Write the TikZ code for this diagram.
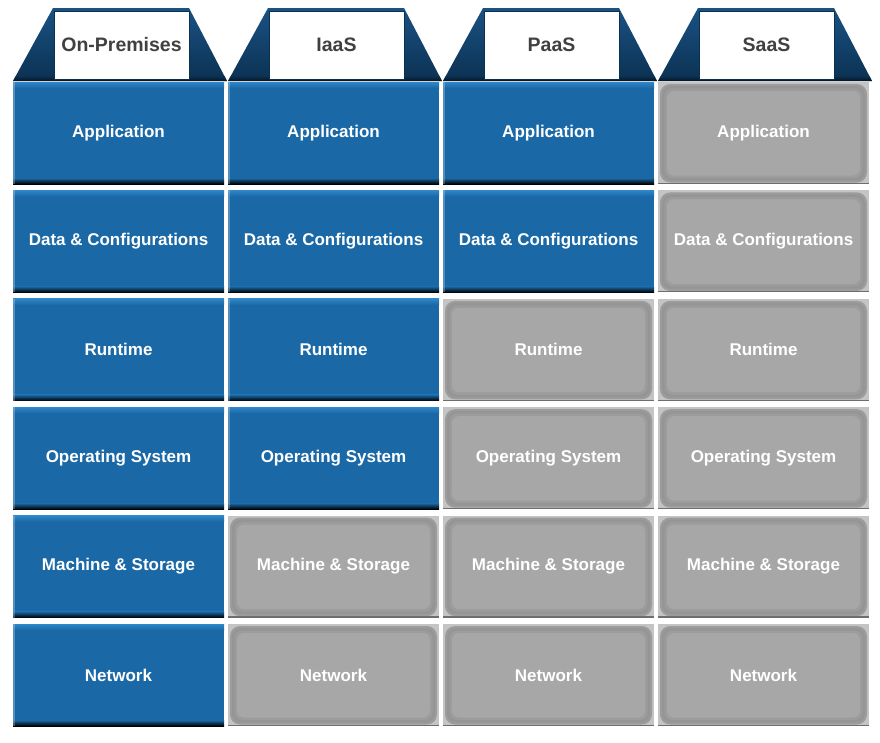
\documentclass[tikz,border=0pt]{standalone}
\usepackage{fontspec}
\setmainfont{Liberation Sans}
\definecolor{bluemain}{HTML}{1A69A6}
\definecolor{bluetop}{HTML}{2F86C8}
\definecolor{navytop}{HTML}{1A5283}
\definecolor{navybot}{HTML}{0B3152}
\definecolor{hdrtext}{HTML}{404040}
\definecolor{grayedge}{HTML}{C4C4C4}
\definecolor{grayringa}{HTML}{9C9C9C}
\definecolor{grayringb}{HTML}{959595}
\definecolor{grayringc}{HTML}{9C9C9C}
\definecolor{grayfill}{HTML}{A7A7A7}
\definecolor{graybot}{HTML}{6E6E6E}
\begin{document}
\begin{tikzpicture}[x=1pt,y=-1pt]
\tikzset{
  cell/.style={minimum width=211pt, minimum height=102pt, inner sep=0pt,
    font=\bfseries\fontsize{17}{20}\selectfont, text=white},
  bluecell/.style={cell, path picture={
    \fill[bluemain] (path picture bounding box.south west) rectangle (path picture bounding box.north east);
    \shade[top color=bluetop, bottom color=bluemain] (path picture bounding box.north west) rectangle ([yshift=-6pt]path picture bounding box.north east);
    \shade[top color=bluemain, bottom color=black] ([yshift=6pt]path picture bounding box.south west) rectangle (path picture bounding box.south east);
    \fill[white, opacity=0.25] (path picture bounding box.south west) rectangle ([xshift=1.5pt]path picture bounding box.north west);
  }},
  graycell/.style={cell, path picture={
    \fill[grayedge] (path picture bounding box.south west) rectangle (path picture bounding box.north east);
    \fill[grayringa, rounded corners=10pt] ([shift={(2pt,1.5pt)}]path picture bounding box.south west) rectangle ([shift={(-2pt,-2pt)}]path picture bounding box.north east);
    \fill[grayringb, rounded corners=9pt] ([shift={(4pt,3.5pt)}]path picture bounding box.south west) rectangle ([shift={(-4pt,-4pt)}]path picture bounding box.north east);
    \fill[grayringc, rounded corners=8pt] ([shift={(6.5pt,6pt)}]path picture bounding box.south west) rectangle ([shift={(-6.5pt,-6.5pt)}]path picture bounding box.north east);
    \fill[grayfill, rounded corners=7pt] ([shift={(9pt,8.5pt)}]path picture bounding box.south west) rectangle ([shift={(-9pt,-9pt)}]path picture bounding box.north east);
    \fill[graybot] (path picture bounding box.south west) rectangle ([yshift=1.2pt]path picture bounding box.south east);
  }},
  hdrbox/.style={minimum width=135pt, minimum height=68pt, inner sep=0pt,
    fill=white, draw=navybot, line width=1pt,
    font=\bfseries\fontsize{19.5}{22}\selectfont, text=hdrtext},
  trap/.style={top color=navytop, bottom color=navybot}
}
\useasboundingbox (0,0) rectangle (880,742);
% headers
\foreach \c/\x/\t in {1/13/On-Premises, 2/228/IaaS, 3/443/PaaS, 4/658/SaaS}{
  \shade[trap] (\x+40,8) -- (\x+176,8) -- (\x+214,81) -- (\x,81) -- cycle;
  \shade[top color=navybot, bottom color=black, opacity=0.6] (\x+2.5,76) -- (\x+211.5,76) -- (\x+214,81) -- (\x,81) -- cycle;
  \node[hdrbox] (h\c) at (\x+108.5,45) {\t};
}
% cells
\foreach \r/\y/\t in {1/82/Application, 2/190.4/Data \& Configurations, 3/298.8/Runtime,
                      4/407.2/Operating System, 5/515.6/Machine \& Storage, 6/624/Network}{
  \foreach \c/\x/\nb in {1/13/6, 2/228/4, 3/443/2, 4/658/0}{
    \ifnum\r>\nb
      \node[graycell] (c\c r\r) at (\x+105.5,\y+51) {\t};
    \else
      \node[bluecell] (c\c r\r) at (\x+105.5,\y+51) {\t};
    \fi
  }
}
\end{tikzpicture}
\end{document}
